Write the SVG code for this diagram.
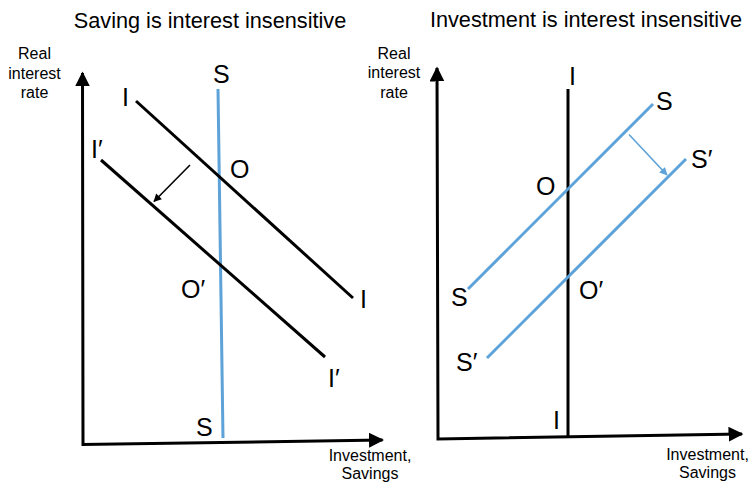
<svg xmlns="http://www.w3.org/2000/svg" width="753" height="488" viewBox="0 0 753 488">
<style>
  .t{font-family:"Liberation Sans",Arial,sans-serif;fill:#000}
  .title{font-size:21.7px;text-anchor:middle}
  .ax{font-size:16px;text-anchor:middle}
  .lb{font-size:25px}
  .blk{stroke:#000;stroke-width:3;fill:none}
  .blu{stroke:#5DA2D8;stroke-width:3;fill:none}
  .axis{stroke:#000;stroke-width:3;fill:none;stroke-linejoin:miter}
</style>
<defs>
  <marker id="ah" viewBox="0 0 10 10" refX="9" refY="5" markerWidth="5" markerHeight="5" orient="auto-start-reverse" markerUnits="strokeWidth">
    <path d="M0,0 L10,5 L0,10 Z" fill="#000"/>
  </marker>
  <marker id="ahs" viewBox="0 0 10 10" refX="9" refY="5" markerWidth="6" markerHeight="5" orient="auto" markerUnits="strokeWidth">
    <path d="M0,0 L10,5 L0,10 Z" fill="#000"/>
  </marker>
  <marker id="ahb" viewBox="0 0 10 10" refX="9" refY="5" markerWidth="6" markerHeight="5" orient="auto" markerUnits="strokeWidth">
    <path d="M0,0 L10,5 L0,10 Z" fill="#5DA2D8"/>
  </marker>
</defs>

<g id="titles">
  <text class="t title" x="210" y="28">Saving is interest insensitive</text>
  <text class="t title" x="586" y="27">Investment is interest insensitive</text>
</g>

<g id="axis-labels">
  <text class="t ax" x="34.5" y="59">Real</text>
  <text class="t ax" x="34.5" y="78.5">interest</text>
  <text class="t ax" x="34.5" y="98">rate</text>
  <text class="t ax" x="394" y="58.5">Real</text>
  <text class="t ax" x="394" y="78">interest</text>
  <text class="t ax" x="394" y="97.5">rate</text>
  <text class="t ax" x="370" y="461">Investment,</text>
  <text class="t ax" x="370" y="479">Savings</text>
  <text class="t ax" x="707.5" y="460">Investment,</text>
  <text class="t ax" x="707.5" y="478">Savings</text>
</g>

<g id="connectors">
  <path id="axes-left" class="axis" d="M82.5,73 L83,444.5 L382.5,440" marker-start="url(#ah)" marker-end="url(#ah)"/>
  <path id="axes-right" class="axis" d="M437,68 L438,439 L742,434" marker-start="url(#ah)" marker-end="url(#ah)"/>
  <line id="S-left" class="blu" x1="218" y1="89" x2="223" y2="438"/>
  <line id="I-left" class="blk" x1="136" y1="101" x2="353" y2="298"/>
  <line id="I2-left" class="blk" x1="101" y1="160" x2="325" y2="357"/>
  <line id="shift-left" stroke="#000" stroke-width="1.6" x1="190" y1="165" x2="154" y2="201.5" marker-end="url(#ahs)"/>
  <line id="I-right" class="blk" x1="568" y1="89" x2="568" y2="436"/>
  <line id="S-right" class="blu" x1="468" y1="289" x2="653" y2="104"/>
  <line id="S2-right" class="blu" x1="487" y1="358" x2="686" y2="159"/>
  <line id="shift-right" stroke="#5DA2D8" stroke-width="1.6" x1="629" y1="134.5" x2="667" y2="175" marker-end="url(#ahb)"/>
</g>

<g id="labels-left">
  <text class="t lb" x="213" y="83">S</text>
  <text class="t lb" x="122" y="106">I</text>
  <text class="t lb" x="91" y="158">I′</text>
  <text class="t lb" x="230" y="178">O</text>
  <text class="t lb" x="181" y="298">O′</text>
  <text class="t lb" x="360" y="308">I</text>
  <text class="t lb" x="328" y="387">I′</text>
  <text class="t lb" x="196" y="436">S</text>
</g>

<g id="labels-right">
  <text class="t lb" x="569" y="85">I</text>
  <text class="t lb" x="656" y="110">S</text>
  <text class="t lb" x="691" y="168">S′</text>
  <text class="t lb" x="536" y="195">O</text>
  <text class="t lb" x="579" y="299">O′</text>
  <text class="t lb" x="451" y="306">S</text>
  <text class="t lb" x="456" y="371">S′</text>
  <text class="t lb" x="553" y="429">I</text>
</g>
</svg>
